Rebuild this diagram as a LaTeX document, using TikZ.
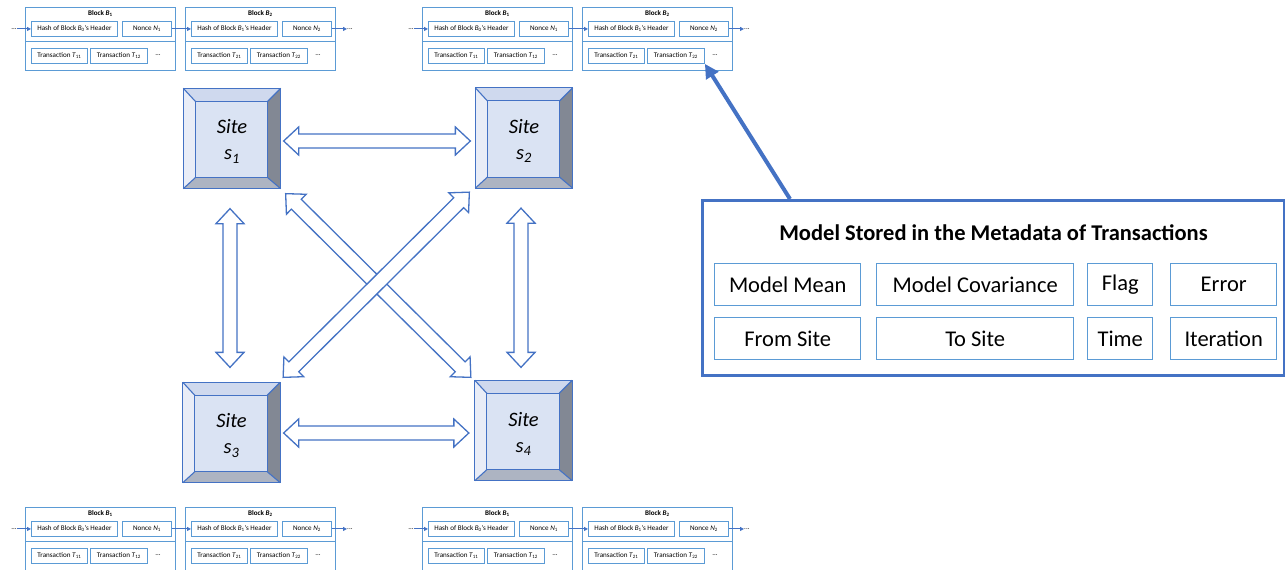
\documentclass[tikz,border=0pt]{standalone}
\usepackage{fontspec}
\setmainfont{Carlito}
\usetikzlibrary{calc,arrows.meta}

\definecolor{siteblue}{HTML}{4472C4}
\definecolor{cellblue}{HTML}{5B9BD5}
\definecolor{sface}{HTML}{DAE3F3}
\definecolor{sleft}{HTML}{E9EDF7}
\definecolor{stop}{HTML}{CFD9EE}
\definecolor{sright}{HTML}{828894}
\definecolor{sbottom}{HTML}{ADB4C2}

\newcommand{\chainfont}{\fontsize{7.1}{8}\selectfont}

\tikzset{
  blkbox/.style={draw=cellblue, line width=0.9pt, minimum width=150pt, minimum height=63pt,
    anchor=north west, inner sep=0pt},
  cell/.style={draw=cellblue, line width=0.9pt, minimum height=15pt, anchor=north west,
    inner sep=0pt, font=\chainfont},
  blktitle/.style={inner sep=0pt, font=\chainfont\bfseries},
  chaindots/.style={inner sep=0pt, font=\chainfont},
  link/.style={draw=siteblue, line width=1pt, -{Triangle[length=4pt,width=4pt]}},
  sitebox/.style={draw=siteblue, fill=sface, line width=1.3pt, minimum width=96pt,
    minimum height=99pt, inner sep=0pt},
  sitetext/.style={align=center, inner sep=0pt, font=\fontsize{20.5}{26}\selectfont\itshape},
  bevel/.style={draw=siteblue, line width=1.1pt},
  hollow/.style={draw=siteblue, fill=white, line width=1.3pt, line join=miter},
  metabox/.style={draw=siteblue, line width=3pt, anchor=north west, inner sep=0pt},
  metatitle/.style={inner sep=0pt, font=\fontsize{22.5}{27}\selectfont\bfseries},
  mcell/.style={draw=cellblue, line width=1.4pt, anchor=north west, inner sep=0pt,
    minimum height=42pt, font=\fontsize{22.5}{27}\selectfont},
  callout/.style={draw=siteblue, line width=4pt, -{Triangle[length=14pt,width=14pt]}}
}

% one block of the chain: name, top left corner, index, previous index
\newcommand{\chainblock}[4]{%
  \node[blkbox] (#1) at (#2) {};
  \draw[draw=cellblue, line width=0.9pt] ($(#1.north west)+(0,34)$) -- ($(#1.north east)+(0,34)$);
  \node[blktitle] (#1-t) at ($(#1.north)+(0,7)$) {Block \textit{B}\textsubscript{#3}};
  \node[cell, minimum width=86pt] (#1-h) at ($(#1.north west)+(6,14)$)
    {Hash of Block \textit{B}\textsubscript{#4}'s Header};
  \node[cell, minimum width=49pt] (#1-n) at ($(#1.north west)+(97,14)$) {Nonce \textit{N}\textsubscript{#3}};
  \node[cell, minimum width=56pt] (#1-t1) at ($(#1.north west)+(6,41)$) {Transaction \textit{T}\textsubscript{#31}};
  \node[cell, minimum width=57pt] (#1-t2) at ($(#1.north west)+(65,41)$) {Transaction \textit{T}\textsubscript{#32}};
  \node[chaindots] (#1-d) at ($(#1.north west)+(133,48)$) {...};
}

% two blocks with their links: prefix, x, y
\newcommand{\chain}[3]{%
  \chainblock{#1a}{#2,#3}{1}{0}
  \chainblock{#1b}{#2+160,#3}{2}{1}
  \node[chaindots] (#1-l) at ($(#1a-h.west)+(-17,0)$) {...};
  \node[chaindots] (#1-r) at ($(#1b-n.east)+(18,0)$) {...};
  \draw[link] (#1-l) -- (#1a-h);
  \draw[link] (#1a-n) -- (#1b-h);
  \draw[link] (#1b-n) -- (#1-r);
}

% bevelled site: name, centre, index
\newcommand{\site}[3]{%
  \node[sitebox] (#1) at (#2) {};
  \fill[sleft]   (#1.north west) -- (#1.south west) -- ($(#1.south west)+(12,-11)$) -- ($(#1.north west)+(12,13)$) -- cycle;
  \fill[stop]    (#1.north west) -- (#1.north east) -- ($(#1.north east)+(-13,13)$) -- ($(#1.north west)+(12,13)$) -- cycle;
  \fill[sright]  (#1.north east) -- (#1.south east) -- ($(#1.south east)+(-13,-11)$) -- ($(#1.north east)+(-13,13)$) -- cycle;
  \fill[sbottom] (#1.south west) -- (#1.south east) -- ($(#1.south east)+(-13,-11)$) -- ($(#1.south west)+(12,-11)$) -- cycle;
  \draw[bevel] ($(#1.north west)+(12,13)$) rectangle ($(#1.south east)+(-13,-11)$);
  \draw[bevel] (#1.north west) -- ($(#1.north west)+(12,13)$);
  \draw[bevel] (#1.north east) -- ($(#1.north east)+(-13,13)$);
  \draw[bevel] (#1.south west) -- ($(#1.south west)+(12,-11)$);
  \draw[bevel] (#1.south east) -- ($(#1.south east)+(-13,-11)$);
  \draw[bevel] (#1.north west) rectangle (#1.south east);
  \node[sitetext] (#1-l) at ($(#1)+(0,3)$) {Site\\s\textsubscript{#3}};
}

% hollow double arrow between two coordinates
\newcommand{\fatarrow}[2]{%
  \draw[hollow] (#1)
    -- ($(#1)!15pt!(#2)!14pt!90:(#2)$) -- ($(#1)!15pt!(#2)!7pt!90:(#2)$)
    -- ($(#2)!15pt!(#1)!7pt!-90:(#1)$) -- ($(#2)!15pt!(#1)!14pt!-90:(#1)$)
    -- (#2)
    -- ($(#2)!15pt!(#1)!14pt!90:(#1)$) -- ($(#2)!15pt!(#1)!7pt!90:(#1)$)
    -- ($(#1)!15pt!(#2)!7pt!-90:(#2)$) -- ($(#1)!15pt!(#2)!14pt!-90:(#2)$)
    -- cycle;
}

\begin{document}
\begin{tikzpicture}[x=1pt, y=-1pt]
  \useasboundingbox (0,0) rectangle (1285,570);

  \chain{c1}{25}{7}
  \chain{c2}{422}{7}
  \chain{c3}{25}{507}
  \chain{c4}{422}{507}

  \site{s1}{232,138.5}{1}
  \site{s2}{524,138}{2}
  \site{s3}{231.5,432.5}{3}
  \site{s4}{523.5,430.5}{4}

  \coordinate (a12) at ($(s1.east)+(3,2.5)$);
  \coordinate (a21) at ($(s2.west)+(-5,3)$);
  \coordinate (a34) at ($(s3.east)+(3.5,0.5)$);
  \coordinate (a43) at ($(s4.west)+(-6,2.5)$);
  \coordinate (a13) at ($(s1.south)+(-2,20)$);
  \coordinate (a31) at ($(s3.north)+(-1.5,-15)$);
  \coordinate (a24) at ($(s2.south)+(-3,20)$);
  \coordinate (a42) at ($(s4.north)+(-2.5,-13)$);
  \coordinate (a14) at ($(s1.south east)+(5,5)$);
  \coordinate (a41) at ($(s4.north west)+(-4,-3)$);
  \coordinate (a23) at ($(s2.south west)+(-6,4)$);
  \coordinate (a32) at ($(s3.north east)+(3,-5)$);

  \fatarrow{a12}{a21}
  \fatarrow{a34}{a43}
  \fatarrow{a13}{a31}
  \fatarrow{a24}{a42}
  \fatarrow{a14}{a41}
  \fatarrow{a23}{a32}

  \node[metabox, minimum width=582pt, minimum height=175pt] (meta) at (701,199) {};
  \node[metatitle] (mtitle) at ($(meta.north)+(0,34)$) {Model Stored in the Metadata of Transactions};
  \node[mcell, minimum width=146pt] (mean)  at (714,263) {Model Mean};
  \node[mcell, minimum width=197pt] (cov)   at (876,263) {Model Covariance};
  \node[mcell, minimum width=65pt]  (flag)  at (1087,263) {Flag};
  \node[mcell, minimum width=106pt] (err)   at (1170,263) {Error};
  \node[mcell, minimum width=146pt] (from)  at (714,317) {From Site};
  \node[mcell, minimum width=197pt] (to)    at (876,317) {To Site};
  \node[mcell, minimum width=65pt]  (time)  at (1087,317) {Time};
  \node[mcell, minimum width=106pt] (iter)  at (1170,317) {Iteration};

  \coordinate (mfoot) at ($(meta.north west)+(89,0)$);
  \draw[callout] (mfoot) -- (c2b-t2.south east);
\end{tikzpicture}
\end{document}
